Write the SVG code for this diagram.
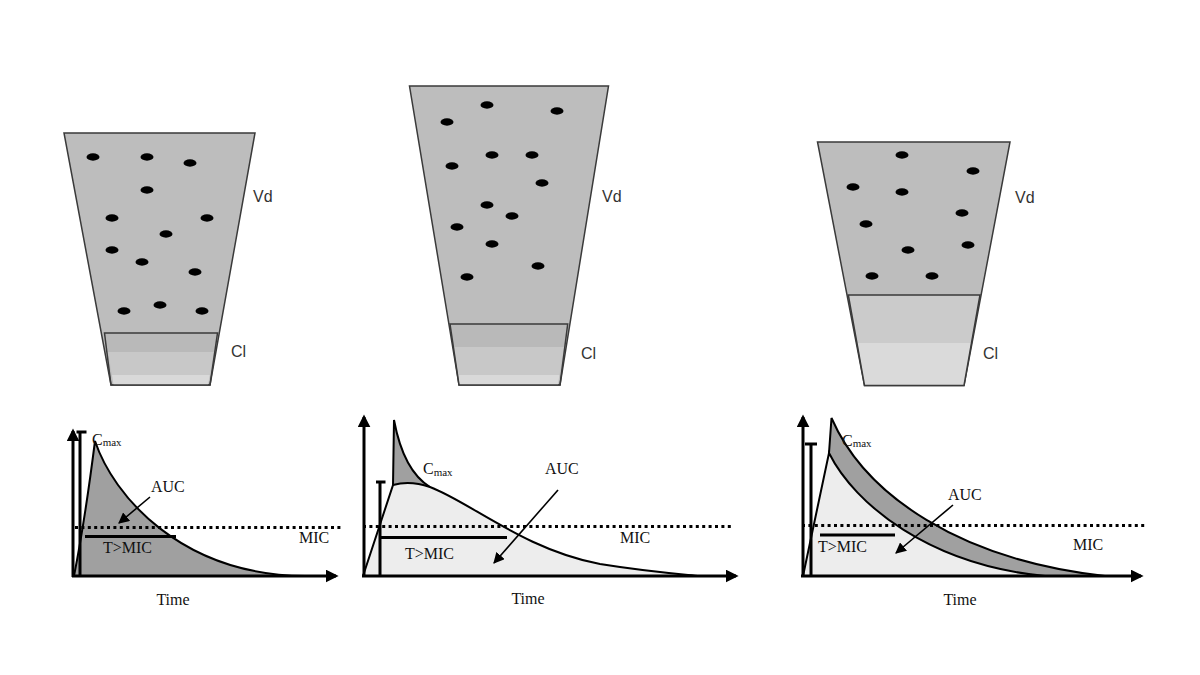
<svg xmlns="http://www.w3.org/2000/svg" width="1200" height="675" viewBox="0 0 1200 675">
<style>
.vessel{fill:#bdbdbd;stroke:#3a3a3a;stroke-width:1.5}
.dot{fill:#000}
.sans{font-family:"Liberation Sans",Arial,sans-serif;font-size:16px;fill:#333}
.serif{font-family:"Liberation Serif","Times New Roman",serif;font-size:16px;fill:#111}
.sub{font-size:11px}
.axis{stroke:#000;stroke-width:3;fill:none}
.curve{stroke:#000;stroke-width:2;fill:none}
.dark{fill:#a0a0a0}
.light{fill:#ededed}
.mic{stroke:#000;stroke-width:3;stroke-dasharray:3 3.4;fill:none}
.bar{stroke:#000;stroke-width:3;fill:none}
.ptr{stroke:#000;stroke-width:1.6;fill:none}
</style>
<defs>
<marker id="ax" viewBox="0 0 10 10" refX="8" refY="5" markerWidth="13" markerHeight="13" markerUnits="userSpaceOnUse" orient="auto"><path d="M0,0 L10,5 L0,10 z" fill="#000"/></marker>
<marker id="pt" viewBox="0 0 10 10" refX="9" refY="5" markerWidth="11" markerHeight="11" markerUnits="userSpaceOnUse" orient="auto"><path d="M0,0 L10,5 L0,10 z" fill="#000"/></marker>
</defs>
<rect width="1200" height="675" fill="#fff"/>

<g id="vessel1">
<polygon class="vessel" points="64,133 255,133 210,385 111,385"/>
<polygon points="104.5,333 217.5,333 213.9,352 107.9,352" fill="#b9b9b9"/>
<polygon points="107.9,352 213.9,352 209.8,375 112,375" fill="#c8c8c8"/>
<polygon points="112,375 209.8,375 208,385 113.5,385" fill="#d9d9d9"/>
<polygon points="104.5,333 217.5,333 210,385 111,385" fill="none" stroke="#3a3a3a" stroke-width="1.5"/>
<g class="dot">
<ellipse cx="93" cy="157" rx="6.5" ry="3.7"/><ellipse cx="147" cy="157" rx="6.5" ry="3.7"/><ellipse cx="190" cy="163" rx="6.5" ry="3.7"/>
<ellipse cx="147" cy="190" rx="6.5" ry="3.7"/><ellipse cx="112" cy="218" rx="6.5" ry="3.7"/><ellipse cx="207" cy="218" rx="6.5" ry="3.7"/>
<ellipse cx="166" cy="234" rx="6.5" ry="3.7"/><ellipse cx="112" cy="250" rx="6.5" ry="3.7"/><ellipse cx="142" cy="262" rx="6.5" ry="3.7"/>
<ellipse cx="195" cy="272" rx="6.5" ry="3.7"/><ellipse cx="124" cy="311" rx="6.5" ry="3.7"/><ellipse cx="160" cy="305" rx="6.5" ry="3.7"/>
<ellipse cx="202" cy="311" rx="6.5" ry="3.7"/>
</g>
<text class="sans" x="253" y="202">Vd</text>
<text class="sans" x="231" y="357">Cl</text>
</g>

<g id="vessel2">
<polygon class="vessel" points="409.5,86 608.5,86 560,385 459,385"/>
<polygon points="450,324 567.7,324 564,347 453.7,347" fill="#b9b9b9"/>
<polygon points="453.7,347 564,347 559.4,375 458.3,375" fill="#c8c8c8"/>
<polygon points="458.3,375 559.4,375 558,385 459.5,385" fill="#d9d9d9"/>
<polygon points="450,324 567.7,324 560,385 459,385" fill="none" stroke="#3a3a3a" stroke-width="1.5"/>
<g class="dot">
<ellipse cx="487" cy="105" rx="6.5" ry="3.7"/><ellipse cx="557" cy="111" rx="6.5" ry="3.7"/><ellipse cx="447" cy="122" rx="6.5" ry="3.7"/>
<ellipse cx="492" cy="155" rx="6.5" ry="3.7"/><ellipse cx="532" cy="155" rx="6.5" ry="3.7"/><ellipse cx="452" cy="166" rx="6.5" ry="3.7"/>
<ellipse cx="542" cy="183" rx="6.5" ry="3.7"/><ellipse cx="487" cy="205" rx="6.5" ry="3.7"/><ellipse cx="512" cy="216" rx="6.5" ry="3.7"/>
<ellipse cx="457" cy="227" rx="6.5" ry="3.7"/><ellipse cx="492" cy="244" rx="6.5" ry="3.7"/><ellipse cx="538" cy="266" rx="6.5" ry="3.7"/>
<ellipse cx="467" cy="277" rx="6.5" ry="3.7"/>
</g>
<text class="sans" x="602" y="202">Vd</text>
<text class="sans" x="581" y="359">Cl</text>
</g>

<g id="vessel3">
<polygon class="vessel" points="817.5,142 1010,142 964,385.5 864.5,385.5"/>
<polygon points="848.3,295 980,295 971.1,343 857.6,343" fill="#cbcbcb"/>
<polygon points="857.6,343 971.1,343 964,385.5 864.5,385.5" fill="#dadada"/>
<polygon points="848.3,295 980,295 964,385.5 864.5,385.5" fill="none" stroke="#3a3a3a" stroke-width="1.5"/>
<g class="dot">
<ellipse cx="902" cy="155" rx="6.5" ry="3.7"/><ellipse cx="973" cy="171" rx="6.5" ry="3.7"/><ellipse cx="853" cy="187" rx="6.5" ry="3.7"/>
<ellipse cx="902" cy="192" rx="6.5" ry="3.7"/><ellipse cx="962" cy="213" rx="6.5" ry="3.7"/><ellipse cx="866" cy="224" rx="6.5" ry="3.7"/>
<ellipse cx="968" cy="245" rx="6.5" ry="3.7"/><ellipse cx="908" cy="250" rx="6.5" ry="3.7"/><ellipse cx="872" cy="276" rx="6.5" ry="3.7"/>
<ellipse cx="932" cy="276" rx="6.5" ry="3.7"/>
</g>
<text class="sans" x="1015" y="203">Vd</text>
<text class="sans" x="983" y="359">Cl</text>
</g>

<g id="graph1">
<path class="dark" d="M74,576 Q85,520 95,441 C113,495 180,575 305,576 Z"/>
<path class="curve" d="M74,576 Q85,520 95,441 C113,495 180,575 305,576"/>
<path class="mic" d="M75,527.5 H341"/>
<path class="bar" d="M85,536.5 H176"/>
<path class="bar" d="M80,576 V432 M76.5,432 H86.5"/>
<text class="serif" x="92" y="445">C<tspan class="sub" dy="1">max</tspan></text>
<text class="serif" x="151" y="492">AUC</text>
<text class="serif" x="103" y="553">T&gt;MIC</text>
<text class="serif" x="299" y="543">MIC</text>
<text class="serif" x="173" y="605" text-anchor="middle">Time</text>
</g>

<g id="graph2">
<path class="light" d="M363,576 L393,485 Q410,480 430,487 C470,502 525,550 600,564 C650,572 680,574 700,576 Z"/>
<path class="dark" d="M393,485 L394,420 C400,452 412,476 430,487 Q410,480 393,485 Z"/>
<path class="curve" d="M363,576 L393,485 L394,420 C400,452 412,476 430,487"/>
<path class="curve" d="M393,485 Q410,480 430,487 C470,502 525,550 600,564 C650,572 680,574 700,576"/>
<path class="mic" d="M363,526.5 H731"/>
<path class="bar" d="M380,537.5 H507"/>
<path class="bar" d="M380,576 V482 M376,482 H385.5"/>
<text class="serif" x="423" y="474">C<tspan class="sub" dy="2">max</tspan></text>
<text class="serif" x="545" y="474">AUC</text>
<text class="serif" x="405" y="559">T&gt;MIC</text>
<text class="serif" x="620" y="543">MIC</text>
<text class="serif" x="528" y="604" text-anchor="middle">Time</text>
</g>

<g id="graph3">
<path class="light" d="M803,576 L829,453 C855,505 930,565 1045,576 Z"/>
<path class="dark" d="M829,453 L831.5,418 C865,495 960,560 1105,576 L1045,576 C930,565 855,505 829,453 Z"/>
<path class="curve" d="M803,576 L829,453 C855,505 930,565 1045,576"/>
<path class="curve" d="M829,453 L831.5,418 C865,495 960,560 1105,576"/>
<path class="mic" d="M802,525.5 H1147"/>
<path class="bar" d="M820,535 H895"/>
<path class="bar" d="M811,576 V444 M805,444 H817"/>
<text class="serif" x="842" y="446">C<tspan class="sub" dy="1">max</tspan></text>
<text class="serif" x="948" y="500">AUC</text>
<text class="serif" x="818" y="552">T&gt;MIC</text>
<text class="serif" x="1073" y="550">MIC</text>
<text class="serif" x="960" y="605" text-anchor="middle">Time</text>
</g>

<g id="connectors">
<path class="axis" d="M72,576 H336" marker-end="url(#ax)"/>
<path class="axis" d="M73,577 V431" marker-end="url(#ax)"/>
<path class="axis" d="M362,576 H736" marker-end="url(#ax)"/>
<path class="axis" d="M364,577 V417" marker-end="url(#ax)"/>
<path class="axis" d="M801,576 H1141" marker-end="url(#ax)"/>
<path class="axis" d="M803,577 V417" marker-end="url(#ax)"/>
<path class="ptr" d="M150,497 L119,523" marker-end="url(#pt)"/>
<path class="ptr" d="M558,490 L494,563" marker-end="url(#pt)"/>
<path class="ptr" d="M953,505 L896,553" marker-end="url(#pt)"/>
</g>
</svg>
